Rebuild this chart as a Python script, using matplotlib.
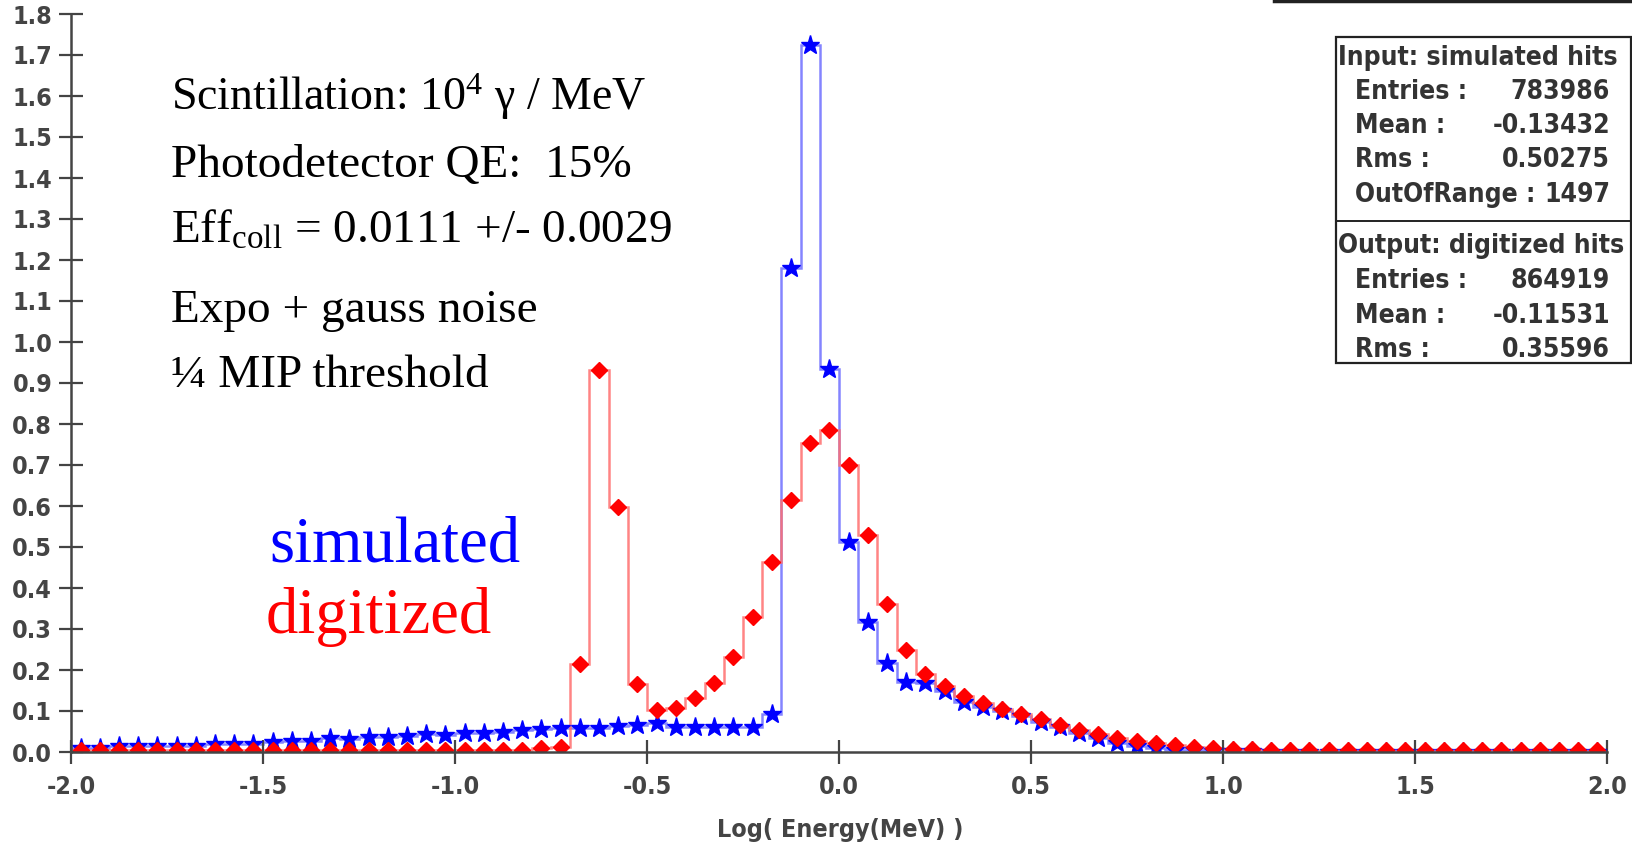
import numpy as np
import matplotlib

matplotlib.use("Agg")
import matplotlib.pyplot as plt
from matplotlib import font_manager
from matplotlib.font_manager import FontProperties
from matplotlib.lines import Line2D
from matplotlib.patches import Rectangle

# histogram binning: 80 bins on [-2, 2]
x_min, x_max, n_bins = -2.0, 2.0, 80

simulated = [
    0.010, 0.010, 0.015, 0.015, 0.015, 0.015, 0.015, 0.020, 0.020, 0.020,
    0.025, 0.027, 0.028, 0.033, 0.032, 0.036, 0.037, 0.040, 0.043, 0.042,
    0.047, 0.047, 0.048, 0.054, 0.056, 0.059, 0.058, 0.059, 0.063, 0.067,
    0.070, 0.060, 0.060, 0.060, 0.060, 0.060, 0.093, 1.180, 1.725, 0.935,
    0.512, 0.317, 0.217, 0.171, 0.168, 0.149, 0.122, 0.110, 0.100, 0.088,
    0.073, 0.061, 0.046, 0.034, 0.022, 0.015, 0.010, 0.006, 0.004, 0.003,
    0.002, 0.002, 0.001, 0.001, 0.001, 0.001, 0.001, 0.001, 0.001, 0.001,
    0.001, 0.001, 0.001, 0.001, 0.001, 0.001, 0.001, 0.001, 0.001, 0.001,
]
digitized = [
    0.005, 0.005, 0.005, 0.005, 0.005, 0.005, 0.005, 0.005, 0.005, 0.005,
    0.005, 0.005, 0.005, 0.005, 0.005, 0.005, 0.005, 0.005, 0.005, 0.005,
    0.005, 0.005, 0.005, 0.006, 0.009, 0.012, 0.215, 0.932, 0.598, 0.167,
    0.103, 0.107, 0.131, 0.169, 0.232, 0.329, 0.463, 0.615, 0.753, 0.785,
    0.700, 0.529, 0.361, 0.249, 0.190, 0.160, 0.137, 0.119, 0.106, 0.093,
    0.080, 0.066, 0.054, 0.044, 0.034, 0.026, 0.021, 0.017, 0.013, 0.010,
    0.008, 0.007, 0.006, 0.006, 0.005, 0.005, 0.005, 0.005, 0.005, 0.004,
    0.004, 0.004, 0.004, 0.004, 0.004, 0.004, 0.004, 0.004, 0.004, 0.004,
]

notes = [
    "Scintillation: 10$^{4}$ γ / MeV",
    "Photodetector QE:  15%",
    "Eff$_{\\mathregular{coll}}$ = 0.0111 +/- 0.0029",
    "Expo + gauss noise",
    "¼ MIP threshold",
]
stats_in = [("Entries :", "783986"), ("Mean :", "-0.13432"),
            ("Rms :", "0.50275"), ("OutOfRange :", "1497")]
stats_out = [("Entries :", "864919"), ("Mean :", "-0.11531"), ("Rms :", "0.35596")]


def _narrow_bold() -> tuple[FontProperties, bool]:
    """Pick a condensed bold sans if one is installed, else plain DejaVu bold."""
    for f in font_manager.fontManager.ttflist:
        tag = (f.name + " " + f.fname).lower()
        narrowish = "narrow" in tag or "condensed" in tag or "condensed" in str(f.stretch)
        if narrowish and "bold" in f.fname.lower() and "italic" not in tag \
                and "oblique" not in tag and "serif" not in f.name.lower():
            return FontProperties(fname=f.fname), True
    return FontProperties(family="DejaVu Sans", weight="bold"), False


NARROW, IS_NARROW = _narrow_bold()
SERIF = "Liberation Serif"
GREY = "#444444"

plt.rcParams["mathtext.fontset"] = "custom"
plt.rcParams["mathtext.rm"] = SERIF
plt.rcParams["mathtext.it"] = SERIF + ":italic"


def narrow(size_narrow: float, size_wide: float) -> FontProperties:
    fp = NARROW.copy()
    fp.set_size(size_narrow if IS_NARROW else size_wide)
    return fp


W, H = 1633, 843
fig = plt.figure(figsize=(W / 100, H / 100), dpi=100)
ax = fig.add_axes([71 / W, 1 - 752 / H, (1607 - 71) / W, (752 - 14) / H])

edges = np.linspace(x_min, x_max, n_bins + 1)
centers = 0.5 * (edges[:-1] + edges[1:])

ax.stairs(simulated, edges, baseline=None, color="#6f6fff", lw=1.8, alpha=0.85)
ax.stairs(digitized, edges, baseline=None, color="#ff6f6f", lw=1.8, alpha=0.85)
ax.plot(centers, simulated, ls="none", marker="*", ms=14, color="#0000ff")
ax.plot(centers, digitized, ls="none", marker="D", ms=8.5, color="#ff0000")

ax.set_xlim(x_min, x_max)
ax.set_ylim(0, 1.8)
ax.set_xticks(np.arange(-2.0, 2.01, 0.5))
ax.set_yticks(np.arange(0, 1.81, 0.1))
ax.xaxis.set_major_formatter(matplotlib.ticker.FormatStrFormatter("%.1f"))
ax.yaxis.set_major_formatter(matplotlib.ticker.FormatStrFormatter("%.1f"))
ax.tick_params(direction="inout", length=17, width=1.6, color=GREY, labelcolor=GREY)
ax.tick_params(axis="y", pad=5)
ax.tick_params(axis="x", pad=8)
for lab in ax.get_xticklabels() + ax.get_yticklabels():
    lab.set_fontproperties(narrow(18, 16))
for side in ("top", "right"):
    ax.spines[side].set_visible(False)
for side in ("left", "bottom"):
    ax.spines[side].set_color(GREY)
    ax.spines[side].set_linewidth(1.8)

fig.text(840 / W, 1 - 830 / H, "Log( Energy(MeV) )", ha="center", va="center",
         fontproperties=narrow(18, 14), color=GREY)

# annotation block
baselines = [110, 177, 243, 322, 387]
sizes = [33, 34, 34, 34, 34]
for txt, yb, fs in zip(notes, baselines, sizes):
    fig.text(171 / W, 1 - yb / H, txt, ha="left", va="baseline",
             fontsize=fs, family=SERIF, color="black")

fig.text(269 / W, 1 - 562 / H, "simulated", ha="left", va="baseline",
         fontsize=46.5, family=SERIF, color="#0000ff")
fig.text(266 / W, 1 - 633 / H, "digitized", ha="left", va="baseline",
         fontsize=46.5, family=SERIF, color="#ff0000")

# stats box
box_l, box_r, box_t, box_mid, box_b = 1336, 1631, 37, 221, 363
fig.patches.append(Rectangle((box_l / W, 1 - box_b / H), (box_r - box_l) / W,
                             (box_b - box_t) / H, transform=fig.transFigure,
                             fill=False, edgecolor="#222222", lw=1.6))
fig.lines.append(Line2D([box_l / W, box_r / W], [1 - box_mid / H] * 2,
                        transform=fig.transFigure, color="#222222", lw=1.4))
fig.lines.append(Line2D([1274 / W, 1.0], [1 - 1 / H] * 2,
                        transform=fig.transFigure, color="#222222", lw=2.5))

stat_kw = dict(fontproperties=narrow(19, 16), color="#333333", va="baseline")
fig.text(1338 / W, 1 - 65 / H, "Input: simulated hits", ha="left", **stat_kw)
for (k, v), yb in zip(stats_in, [99, 133, 167, 202]):
    fig.text(1355 / W, 1 - yb / H, k, ha="left", **stat_kw)
    fig.text(1610 / W, 1 - yb / H, v, ha="right", **stat_kw)
fig.text(1338 / W, 1 - 253 / H, "Output: digitized hits", ha="left", **stat_kw)
for (k, v), yb in zip(stats_out, [288, 323, 357]):
    fig.text(1355 / W, 1 - yb / H, k, ha="left", **stat_kw)
    fig.text(1610 / W, 1 - yb / H, v, ha="right", **stat_kw)

fig.savefig("out.png", dpi=100)
